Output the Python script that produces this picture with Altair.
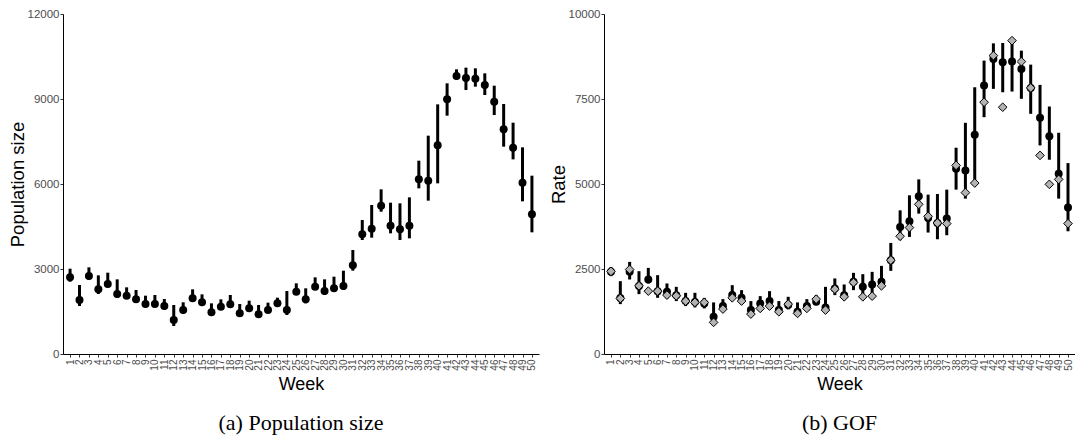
import altair as alt
import pandas as pd

weeks = list(range(1, 51))

# Panel (a): population size
pop_mid = [2707, 1906, 2753, 2282, 2470, 2117, 2058, 1929, 1765, 1765,
           1694, 1200, 1553, 1965, 1824, 1471, 1671, 1753, 1435, 1612,
           1400, 1553, 1788, 1553, 2200, 1929, 2376, 2224, 2318, 2400,
           3129, 4223, 4423, 5235, 4529, 4400, 4529, 6165, 6118, 7364,
           8988, 9811, 9741, 9717, 9494, 8906, 7929, 7282, 6047, 4929]
pop_lo = [2552, 1694, 2635, 2117, 2353, 1988, 1965, 1812, 1647, 1671,
          1576, 988, 1435, 1871, 1729, 1376, 1576, 1647, 1341, 1529,
          1318, 1459, 1694, 1376, 2082, 1788, 2258, 2082, 2200, 2258,
          2941, 4023, 4106, 5023, 4259, 4023, 4082, 5847, 5412, 6023,
          8412, 9694, 9318, 9435, 9141, 8435, 7317, 6870, 5388, 4294]
pop_hi = [3011, 2435, 3059, 2776, 2870, 2635, 2353, 2258, 2058, 2082,
          1941, 1729, 1824, 2282, 2105, 1788, 1929, 2082, 1765, 1882,
          1729, 1812, 1988, 2224, 2494, 2318, 2706, 2635, 2729, 2941,
          3670, 4729, 5259, 5812, 5341, 5318, 5529, 6823, 7706, 8811,
          9553, 10047, 10106, 10082, 9906, 9470, 8823, 8164, 7294, 6293]

# Panel (b): GOF rate
rate_mid = [2420, 1650, 2416, 2000, 2192, 1849, 1829, 1730, 1556, 1530,
            1488, 1095, 1409, 1732, 1652, 1291, 1488, 1556, 1291, 1438,
            1242, 1409, 1535, 1370, 1930, 1730, 2123, 1975, 2045, 2122,
            2759, 3736, 3904, 4637, 4000, 3853, 3983, 5450, 5400, 6448,
            7895, 8679, 8580, 8600, 8385, 7827, 6947, 6407, 5304, 4306]
rate_lo = [2290, 1467, 2192, 1761, 2075, 1652, 1635, 1556, 1409, 1370,
           1341, 919, 1242, 1585, 1488, 1165, 1291, 1341, 1165, 1312,
           1145, 1272, 1438, 1194, 1732, 1585, 1878, 1635, 1682, 1928,
           2445, 3346, 3443, 4129, 3572, 3375, 3493, 4834, 4570, 4960,
           6965, 7798, 7699, 7719, 7505, 7064, 6134, 5714, 4570, 3610]
rate_hi = [2560, 2143, 2709, 2436, 2533, 2319, 2075, 1975, 1799, 1800,
           1652, 1517, 1614, 2025, 1878, 1556, 1702, 1849, 1556, 1682,
           1517, 1614, 1732, 1975, 2222, 2045, 2387, 2348, 2416, 2592,
           3267, 4226, 4667, 5136, 4687, 4706, 4834, 6067, 6800, 7845,
           8629, 9137, 9148, 9148, 8922, 8511, 7915, 7279, 6507, 5615]
rate_obs = [2430, 1635, 2486, 2005, 1849, 1849, 1732, 1711, 1556, 1517,
            1517, 930, 1321, 1652, 1556, 1174, 1341, 1409, 1242, 1467,
            1194, 1341, 1614, 1291, 1908, 1682, 2104, 1682, 1702, 2005,
            2759, 3463, 3718, 4403, 4050, 3853, 3836, 5547, 4746, 5028,
            7405, 8776, 7258, 9216, 8600, 7827, 5841, 4990, 5136, 3836]

df_a = pd.DataFrame({"week": weeks, "mid": pop_mid, "lo": pop_lo, "hi": pop_hi})
df_b = pd.DataFrame({"week": weeks, "mid": rate_mid, "lo": rate_lo,
                     "hi": rate_hi, "obs": rate_obs})

H = 340

x_enc = alt.X("week:O", title="Week",
              scale=alt.Scale(type="point", padding=0.75),
              axis=alt.Axis(labelAngle=270, labelFontSize=10, labelPadding=2,
                            titleFontSize=18, titlePadding=5))


def y_enc(field, title, maxv, ticks):
    return alt.Y(field, title=title,
                 scale=alt.Scale(domain=[0, maxv], nice=False),
                 axis=alt.Axis(values=ticks, format="d", labelFontSize=11.5,
                               labelPadding=1, titleFontSize=18.5,
                               titlePadding=0))


cap_font = dict(orient="bottom", font="Liberation Serif", fontSize=22,
                fontWeight="normal", color="black", offset=20)

base_a = alt.Chart(df_a)
rule_a = base_a.mark_rule(strokeWidth=3, color="black").encode(
    x=x_enc,
    y=y_enc("lo:Q", "Population size", 12000, [0, 3000, 6000, 9000, 12000]),
    y2="hi:Q")
pt_a = base_a.mark_point(filled=True, shape="circle", size=64, color="black",
                         opacity=1).encode(x=x_enc, y="mid:Q")
chart_a = alt.layer(rule_a, pt_a).properties(
    width=476, height=H,
    title=alt.TitleParams("(a) Population size", **cap_font))

base_b = alt.Chart(df_b)
rule_b = base_b.mark_rule(strokeWidth=3, color="black").encode(
    x=x_enc,
    y=y_enc("lo:Q", "Rate", 10000, [0, 2500, 5000, 7500, 10000]),
    y2="hi:Q")
pt_b = base_b.mark_point(filled=True, shape="circle", size=64, color="black",
                         opacity=1).encode(x=x_enc, y="mid:Q")
dia_b = base_b.mark_point(filled=True, shape="diamond", size=75, fill="#b3b3b3",
                          stroke="black", strokeWidth=1, opacity=1).encode(
    x=x_enc, y="obs:Q")
chart_b = alt.layer(rule_b, pt_b, dia_b).properties(
    width=471, height=H,
    title=alt.TitleParams("(b) GOF", **cap_font))

chart = alt.hconcat(chart_a, chart_b, spacing=10).properties(
    padding={"left": 0, "top": 0, "right": 0, "bottom": 0}
).configure_view(stroke=None).configure_axis(
    grid=False, domainColor="black", domainWidth=1, tickColor="#333333",
    tickSize=3, labelColor="#4d4d4d", titleColor="black",
    labelFont="Liberation Sans", titleFont="Liberation Sans",
    titleFontWeight="normal"
)

chart.save("out.html", embed_options={"renderer": "svg", "actions": False})
